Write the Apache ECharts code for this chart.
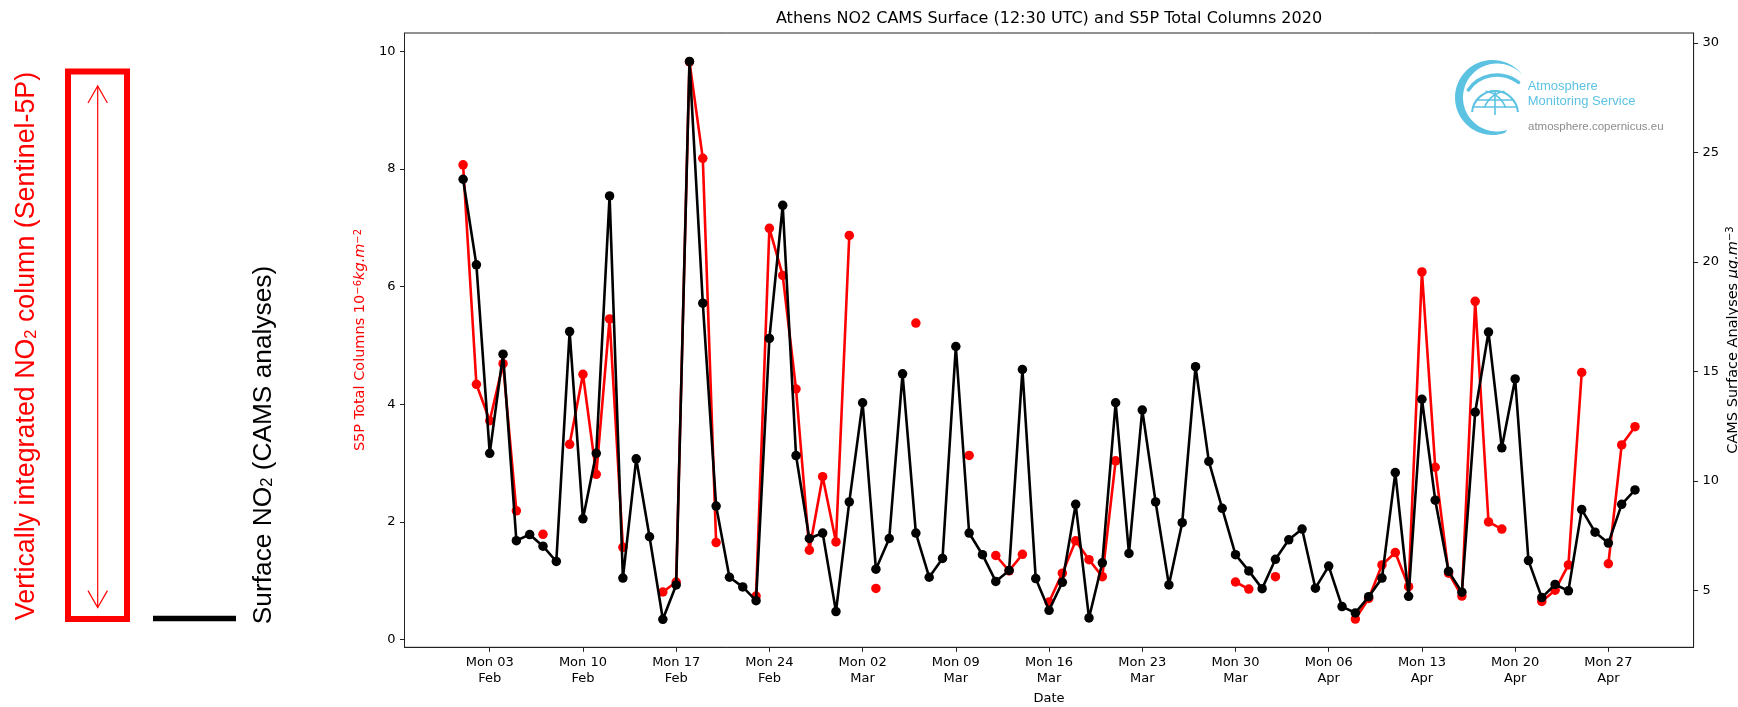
<!DOCTYPE html>
<html><head><meta charset="utf-8">
<script src="https://cdn.jsdelivr.net/npm/echarts@6/dist/echarts.min.js"></script>
<style>html,body{margin:0;padding:0;background:#fff}#c{width:1738px;height:707px}</style>
</head><body><div id="c"></div>
<script>
// ---- data ----
const dates = [
'2020-02-01','2020-02-02','2020-02-03','2020-02-04','2020-02-05','2020-02-06','2020-02-07','2020-02-08','2020-02-09','2020-02-10',
'2020-02-11','2020-02-12','2020-02-13','2020-02-14','2020-02-15','2020-02-16','2020-02-17','2020-02-18','2020-02-19','2020-02-20',
'2020-02-21','2020-02-22','2020-02-23','2020-02-24','2020-02-25','2020-02-26','2020-02-27','2020-02-28','2020-02-29',
'2020-03-01','2020-03-02','2020-03-03','2020-03-04','2020-03-05','2020-03-06','2020-03-07','2020-03-08','2020-03-09','2020-03-10',
'2020-03-11','2020-03-12','2020-03-13','2020-03-14','2020-03-15','2020-03-16','2020-03-17','2020-03-18','2020-03-19','2020-03-20',
'2020-03-21','2020-03-22','2020-03-23','2020-03-24','2020-03-25','2020-03-26','2020-03-27','2020-03-28','2020-03-29','2020-03-30','2020-03-31',
'2020-04-01','2020-04-02','2020-04-03','2020-04-04','2020-04-05','2020-04-06','2020-04-07','2020-04-08','2020-04-09','2020-04-10',
'2020-04-11','2020-04-12','2020-04-13','2020-04-14','2020-04-15','2020-04-16','2020-04-17','2020-04-18','2020-04-19','2020-04-20',
'2020-04-21','2020-04-22','2020-04-23','2020-04-24','2020-04-25','2020-04-26','2020-04-27','2020-04-28','2020-04-29'
];
// S5P total columns (10^-6 kg.m^-2), left axis; null = no observation
const s5pColumns = [
8.07,4.34,3.72,4.69,2.19,null,1.79,null,3.32,4.51,
2.81,5.45,1.57,null,null,0.81,0.98,9.82,8.18,1.65,
null,null,0.74,6.99,6.19,4.26,1.52,2.77,1.66,
6.87,null,0.87,null,null,5.38,null,null,null,3.13,
null,1.43,1.17,1.45,null,0.64,1.13,1.68,1.36,1.07,
3.04,null,null,null,null,null,null,null,null,0.98,0.86,
null,1.07,null,null,null,null,null,0.35,0.70,1.27,
1.48,0.90,6.25,2.93,1.13,0.74,5.75,2.00,1.88,null,
null,0.65,0.84,1.27,4.54,null,1.29,3.31,3.62
];
// CAMS surface analyses (ug.m^-3), right axis
const camsSurface = [
23.78,19.87,11.26,15.79,7.27,7.55,7.02,6.32,16.82,8.27,
11.26,23.02,5.56,11.01,7.45,3.68,5.25,29.16,18.12,8.85,
5.60,5.16,4.53,16.51,22.59,11.16,7.37,7.62,4.03,
9.04,13.57,5.97,7.37,14.89,7.62,5.60,6.46,16.14,7.62,
6.63,5.41,5.91,15.09,5.54,4.09,5.37,8.93,3.74,6.26,
13.57,6.69,13.24,9.04,5.25,8.09,15.22,10.89,8.75,6.63,5.89,
5.08,6.42,7.31,7.80,5.10,6.11,4.26,3.97,4.71,5.56,
10.38,4.73,13.73,9.12,5.87,4.92,13.14,16.80,11.51,14.66,
6.36,4.67,5.27,4.98,8.69,7.66,7.16,8.93,9.59
];
const weekTickDates = ['2020-02-03','2020-02-10','2020-02-17','2020-02-24','2020-03-02','2020-03-09','2020-03-16','2020-03-23','2020-03-30','2020-04-06','2020-04-13','2020-04-20','2020-04-27'];
const weekTickLabels = ['Mon 03\nFeb','Mon 10\nFeb','Mon 17\nFeb','Mon 24\nFeb','Mon 02\nMar','Mon 09\nMar','Mon 16\nMar','Mon 23\nMar','Mon 30\nMar','Mon 06\nApr','Mon 13\nApr','Mon 20\nApr','Mon 27\nApr'];
const leftTicks = [0,2,4,6,8,10];
const rightTicks = [5,10,15,20,25,30];
const titleText = 'Athens NO2 CAMS Surface (12:30 UTC) and S5P Total Columns 2020';

// ---- build ----
const DAY = 86400000;
const REF = Date.parse('2020-02-03T00:00:00Z');
const dayOf = d => Math.round((Date.parse(d + 'T00:00:00Z') - REF) / DAY);
const tickX = weekTickDates.map(dayOf);
const redData = dates.map((d, i) => [dayOf(d), s5pColumns[i] == null ? '-' : s5pColumns[i]]);
const blackData = dates.map((d, i) => [dayOf(d), camsSurface[i]]);

const F = 'DejaVu Sans';
const A = 'Liberation Sans';
const BLUE = '#5bc2e2';
const deg = a => a * Math.PI / 180;
const AX = '#222';

// logo crescent outline
const crescent = [];
for (let a = -37; a >= -291; a -= 4) crescent.push([1492.5 + 37.5 * Math.cos(deg(a)), 97.5 + 37.5 * Math.sin(deg(a))]);
for (let a = -288; a <= -41; a += 4) crescent.push([1497 + 34 * Math.cos(deg(a)), 97.5 + 34 * Math.sin(deg(a))]);

const chart = echarts.init(document.getElementById('c'), null, {renderer: 'canvas'});
chart.setOption({
  animation: false,
  backgroundColor: '#fff',
  grid: {left: 404.5, right: 44.4, top: 33, bottom: 59.7, show: true, borderColor: AX, borderWidth: 1, backgroundColor: 'transparent'},
  xAxis: {
    type: 'value', min: -6.4, max: 90.4,
    axisLine: {show: true, onZero: false, lineStyle: {color: AX, width: 1}},
    splitLine: {show: false},
    axisTick: {show: true, customValues: tickX, length: 4.5, lineStyle: {color: AX, width: 1}},
    axisLabel: {customValues: tickX, formatter: v => weekTickLabels[tickX.indexOf(Math.round(v))] || '',
      fontSize: 13, color: '#000', fontFamily: F, lineHeight: 16.5, margin: 7}
  },
  yAxis: [
    {type: 'value', position: 'left', min: -0.13, max: 10.31,
      axisLine: {show: true, onZero: false, lineStyle: {color: AX, width: 1}}, splitLine: {show: false},
      axisTick: {show: true, customValues: leftTicks, length: 4.5, lineStyle: {color: AX}},
      axisLabel: {customValues: leftTicks, fontSize: 13, color: '#000', fontFamily: F, margin: 9}},
    {type: 'value', position: 'right', min: 2.40, max: 30.46,
      axisLine: {show: true, onZero: false, lineStyle: {color: AX, width: 1}}, splitLine: {show: false},
      axisTick: {show: true, customValues: rightTicks, length: 4.5, lineStyle: {color: AX}},
      axisLabel: {customValues: rightTicks, fontSize: 13, color: '#000', fontFamily: F, margin: 9}}
  ],
  series: [
    {name: 'S5P', type: 'line', yAxisIndex: 0, data: redData, connectNulls: false,
      symbol: 'circle', symbolSize: 9.5, showSymbol: true, showAllSymbol: true,
      itemStyle: {color: '#ff0000'}, lineStyle: {color: '#ff0000', width: 2.6}, z: 2},
    {name: 'CAMS', type: 'line', yAxisIndex: 1, data: blackData,
      symbol: 'circle', symbolSize: 9.5, showSymbol: true, showAllSymbol: true,
      itemStyle: {color: '#000'}, lineStyle: {color: '#000', width: 2.6}, z: 3}
  ],
  graphic: [
    // title
    {type: 'text', x: 1049, y: 18.5, style: {text: titleText, fontSize: 16, fontFamily: F, fill: '#000', align: 'center', verticalAlign: 'middle'}},
    // x axis name
    {type: 'text', x: 1049, y: 699, style: {text: 'Date', fontSize: 13, fontFamily: F, fill: '#000', align: 'center', verticalAlign: 'middle'}},
    // left axis name
    {type: 'text', x: 360.7, y: 340, rotation: Math.PI / 2, style: {
      text: '{a|S5P Total Columns 10}{s|−6}{i|kg.m}{s|−2}', align: 'center', verticalAlign: 'middle',
      rich: {a: {fontSize: 14.5, fontFamily: F, fill: '#ff0000'}, i: {fontSize: 14.5, fontFamily: F, fontStyle: 'italic', fill: '#ff0000'},
             s: {fontSize: 10, fontFamily: F, fill: '#ff0000', verticalAlign: 'top'}}}},
    // right axis name
    {type: 'text', x: 1733, y: 340, rotation: Math.PI / 2, style: {
      text: '{a|CAMS Surface Analyses }{i|μg.m}{s|−3}', align: 'center', verticalAlign: 'middle',
      rich: {a: {fontSize: 14.5, fontFamily: F, fill: '#000'}, i: {fontSize: 14.5, fontFamily: F, fontStyle: 'italic', fill: '#000'},
             s: {fontSize: 10, fontFamily: F, fill: '#000', verticalAlign: 'top'}}}},
    // left legend panel
    {type: 'rect', shape: {x: 68, y: 71.6, width: 59, height: 547.4}, style: {fill: 'none', stroke: '#ff0000', lineWidth: 6}},
    {type: 'line', shape: {x1: 97.7, y1: 86, x2: 97.7, y2: 607.6}, style: {stroke: '#ff0000', lineWidth: 1.2}},
    {type: 'polyline', shape: {points: [[88, 103], [97.7, 86], [107.4, 103]]}, style: {stroke: '#ff0000', lineWidth: 1.2, fill: 'none'}},
    {type: 'polyline', shape: {points: [[88, 590.6], [97.7, 607.6], [107.4, 590.6]]}, style: {stroke: '#ff0000', lineWidth: 1.2, fill: 'none'}},
    {type: 'text', x: 26.7, y: 346, rotation: Math.PI / 2, style: {
      text: '{a|Vertically integrated NO}{s|2}{a| column (Sentinel-5P)}', align: 'center', verticalAlign: 'middle',
      rich: {a: {fontSize: 26.8, fontFamily: A, fill: '#ff0000'}, s: {fontSize: 16.5, fontFamily: A, fill: '#ff0000', verticalAlign: 'bottom'}}}},
    {type: 'line', shape: {x1: 153, y1: 618.5, x2: 236, y2: 618.5}, style: {stroke: '#000', lineWidth: 5.5}},
    {type: 'text', x: 263.3, y: 445, rotation: Math.PI / 2, style: {
      text: '{a|Surface NO}{s|2}{a| (CAMS analyses)}', align: 'center', verticalAlign: 'middle',
      rich: {a: {fontSize: 26.3, fontFamily: A, fill: '#000'}, s: {fontSize: 16.5, fontFamily: A, fill: '#000', verticalAlign: 'bottom'}}}},
    // CAMS logo: crescent
    {type: 'polygon', shape: {points: crescent}, style: {fill: BLUE, stroke: 'none'}},
    // upper arc
    {type: 'arc', shape: {cx: 1497, cy: 110, r: 35, startAngle: deg(215), endAngle: deg(308), clockwise: true},
      style: {stroke: BLUE, lineWidth: 3.5, fill: 'none', lineCap: 'round'}},
    // globe dome
    {type: 'arc', shape: {cx: 1495, cy: 114, r: 23, startAngle: deg(185), endAngle: deg(355), clockwise: true},
      style: {stroke: BLUE, lineWidth: 2, fill: 'none'}},
    {type: 'line', shape: {x1: 1477, y1: 100, x2: 1513, y2: 100}, style: {stroke: BLUE, lineWidth: 1.6}},
    {type: 'line', shape: {x1: 1474, y1: 107, x2: 1516, y2: 107}, style: {stroke: BLUE, lineWidth: 1.6}},
    {type: 'line', shape: {x1: 1495, y1: 91, x2: 1495, y2: 115}, style: {stroke: BLUE, lineWidth: 1.6}},
    {type: 'arc', shape: {cx: 1508, cy: 116, r: 25, startAngle: deg(200), endAngle: deg(262), clockwise: true}, style: {stroke: BLUE, lineWidth: 1.6, fill: 'none'}},
    {type: 'arc', shape: {cx: 1482, cy: 116, r: 25, startAngle: deg(278), endAngle: deg(340), clockwise: true}, style: {stroke: BLUE, lineWidth: 1.6, fill: 'none'}},
    {type: 'text', x: 1527.7, y: 86.7, style: {text: 'Atmosphere', fontSize: 13, fontFamily: A, fill: BLUE, align: 'left', verticalAlign: 'middle'}},
    {type: 'text', x: 1527.7, y: 101.7, style: {text: 'Monitoring Service', fontSize: 13, fontFamily: A, fill: BLUE, align: 'left', verticalAlign: 'middle'}},
    {type: 'text', x: 1528, y: 126.7, style: {text: 'atmosphere.copernicus.eu', fontSize: 11.5, fontFamily: A, fill: '#8c8c8c', align: 'left', verticalAlign: 'middle'}}
  ]
});
</script></body></html>
